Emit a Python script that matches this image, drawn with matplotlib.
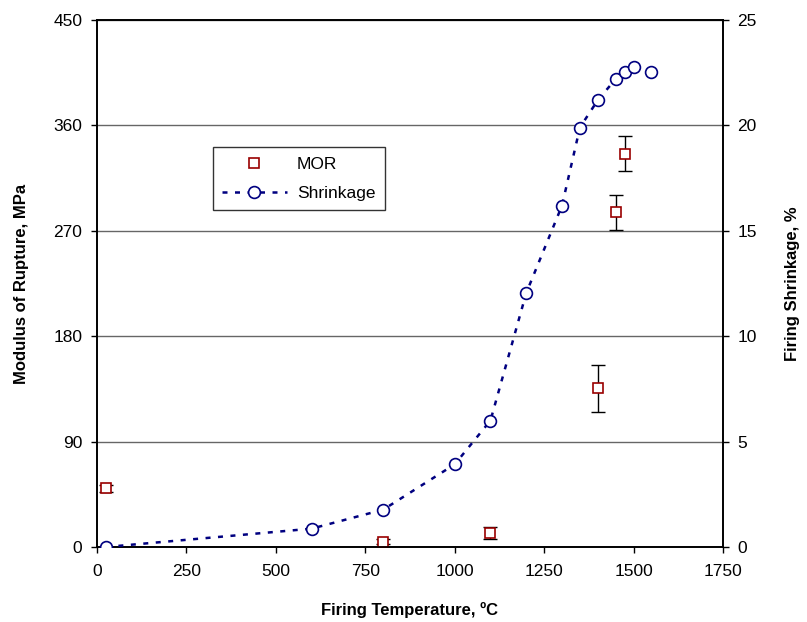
import matplotlib.pyplot as plt
from matplotlib.ticker import MultipleLocator

plt.rcParams['font.family'] = ['Liberation Sans', 'DejaVu Sans']

# MOR data (MPa) with error bars
mor_temp = [25, 800, 1100, 1400, 1450, 1475]
mor_val = [50, 4.5, 12, 135.5, 286, 336]
mor_err = [3, 2, 5, 20, 15, 15]

# Firing shrinkage data (%)
shr_temp = [25, 600, 800, 1000, 1100, 1200, 1300, 1350, 1400, 1450, 1475, 1500, 1550]
shr_val = [0, 0.87, 1.77, 3.92, 6.0, 12.05, 16.2, 19.9, 21.2, 22.2, 22.55, 22.75, 22.55]


def main():
    fig = plt.figure(figsize=(8.07, 6.22), dpi=100)
    ax = fig.add_axes([0.1202, 0.1206, 0.7757, 0.8472])
    ax2 = ax.twinx()

    ax.set_xlim(0, 1750)
    ax.set_ylim(0, 450)
    ax2.set_ylim(0, 25)
    ax.xaxis.set_major_locator(MultipleLocator(250))
    ax.yaxis.set_major_locator(MultipleLocator(90))
    ax2.yaxis.set_major_locator(MultipleLocator(5))

    # horizontal gridlines
    ax.grid(axis="y", color="#666666", linewidth=1.0)
    ax.set_axisbelow(True)

    ax.errorbar(mor_temp, mor_val, yerr=mor_err, fmt="none", ecolor="black",
                elinewidth=1.0, capsize=4.7, capthick=1.0, zorder=3)
    ax.plot(mor_temp, mor_val, linestyle="none", marker="s", markersize=7.5,
            markerfacecolor="white", markeredgecolor="#990000",
            markeredgewidth=1.2, zorder=4, label="MOR")

    ax2.plot(shr_temp, shr_val, linestyle=(0, (2, 3)), color="#000080",
             linewidth=1.8, marker="o", markersize=8.5,
             markerfacecolor="white", markeredgecolor="#000080",
             markeredgewidth=1.2, label="Shrinkage", zorder=4)

    for a in (ax, ax2):
        for s in a.spines.values():
            s.set_color("black")
            s.set_linewidth(1.2)
        a.tick_params(direction="out", length=4.5, width=1, labelsize=12.5,
                      colors="black")
    ax.tick_params(axis="x", pad=7.5)
    ax.tick_params(axis="y", pad=6)
    ax2.tick_params(axis="y", pad=6)

    ax.set_xlabel("Firing Temperature, ºC", fontsize=12, fontweight="bold",
                  labelpad=17)
    ax.set_ylabel("Modulus of Rupture, MPa", fontsize=12, fontweight="bold",
                  labelpad=17.5)
    ax2.set_ylabel("Firing Shrinkage, %", fontsize=12, fontweight="bold",
                   labelpad=20)

    h1, l1 = ax.get_legend_handles_labels()
    h2, l2 = ax2.get_legend_handles_labels()
    leg = ax2.legend(h1 + h2, l1 + l2, loc="upper left",
                     bbox_to_anchor=(0.185, 0.759), borderaxespad=0,
                     fontsize=12.5, frameon=True, fancybox=False,
                     edgecolor="black", handlelength=3.7, handletextpad=0.6,
                     borderpad=0.55, labelspacing=0.8)
    leg.get_frame().set_linewidth(1.0)

    fig.savefig("out.png", dpi=100)
    plt.close(fig)


if __name__ == "__main__":
    main()
